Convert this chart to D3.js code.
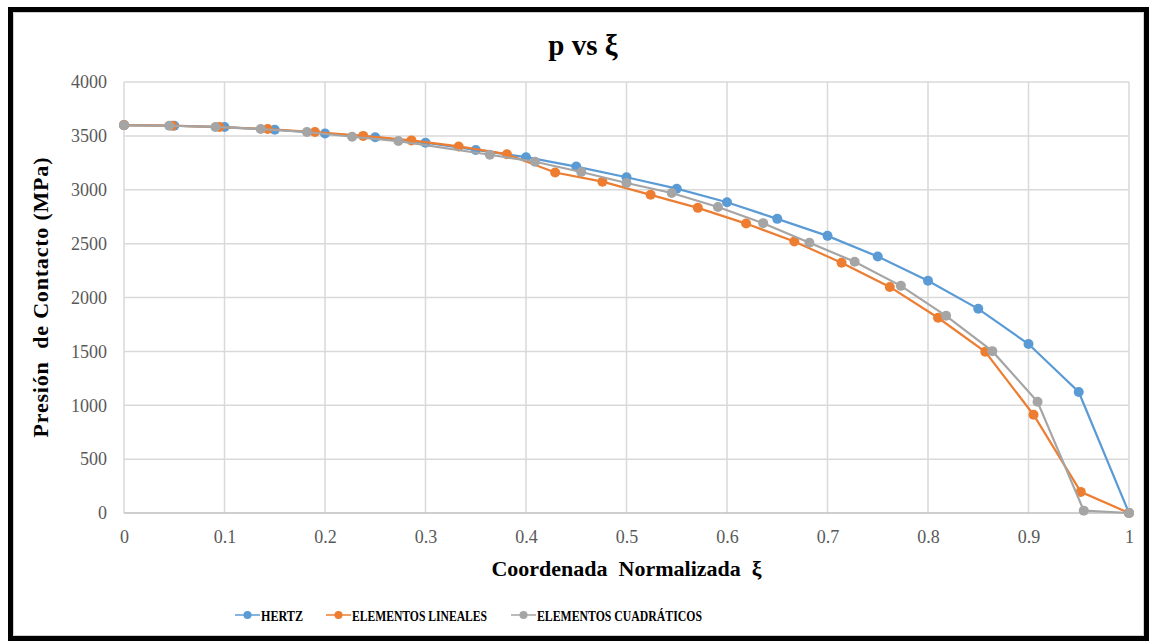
<!DOCTYPE html>
<html>
<head>
<meta charset="utf-8">
<script src="https://cdn.jsdelivr.net/npm/d3@7"></script>
<style>
body { margin: 0; background: #fff; }
</style>
</head>
<body>
<div id="chart"></div>
<script>
// data
var hertzX = [0, 0.05, 0.1, 0.15, 0.2, 0.25, 0.3, 0.35, 0.4, 0.45, 0.5, 0.55, 0.6, 0.65, 0.7, 0.75, 0.8, 0.85, 0.9, 0.95, 1];
var hertzY = [3600, 3594, 3582, 3557, 3522, 3488, 3436, 3369, 3302, 3215, 3116, 3010, 2884, 2730, 2572, 2380, 2156, 1895, 1568, 1123, 0];

var linX = [0, 0.048, 0.095, 0.143, 0.19, 0.238, 0.286, 0.333, 0.381, 0.429, 0.476, 0.524, 0.571, 0.619, 0.667, 0.714, 0.762, 0.81, 0.857, 0.905, 0.952, 1];
var linY = [3600, 3595, 3582, 3563, 3536, 3500, 3458, 3402, 3330, 3160, 3075, 2953, 2832, 2686, 2520, 2322, 2098, 1812, 1496, 912, 196, 0];

var quadX = [0, 0.045, 0.091, 0.136, 0.182, 0.227, 0.273, 0.364, 0.409, 0.455, 0.5, 0.545, 0.591, 0.636, 0.682, 0.727, 0.773, 0.818, 0.864, 0.909, 0.955, 1];
var quadY = [3598, 3594, 3583, 3563, 3536, 3492, 3452, 3325, 3260, 3165, 3063, 2970, 2840, 2690, 2508, 2332, 2108, 1830, 1502, 1032, 22, 0];

var xTicks = [0, 0.1, 0.2, 0.3, 0.4, 0.5, 0.6, 0.7, 0.8, 0.9, 1];
var yTicks = [0, 500, 1000, 1500, 2000, 2500, 3000, 3500, 4000];

var seriesNames = ["HERTZ", "ELEMENTOS LINEALES", "ELEMENTOS CUADRÁTICOS"];
var seriesColors = ["#5b9bd5", "#ed7d31", "#a5a5a5"];

var FONT = "Liberation Serif";

var W = 1154, H = 644;
var margin = {left: 124, right: 25, top: 82, bottom: 131};
var width = W - margin.left - margin.right;
var height = H - margin.top - margin.bottom;

var root = d3.select("#chart").append("svg")
    .attr("width", W)
    .attr("height", H)
    .attr("font-family", FONT);

// frame
root.append("rect")
    .attr("x", 10.5).attr("y", 9.5)
    .attr("width", 1136).attr("height", 629)
    .attr("fill", "none")
    .attr("stroke", "#000")
    .attr("stroke-width", 5);
root.append("rect")
    .attr("x", 13.5).attr("y", 12.5)
    .attr("width", 1130).attr("height", 623)
    .attr("fill", "none")
    .attr("stroke", "#d0d0d0")
    .attr("stroke-width", 1);

root.append("text")
    .attr("x", 583).attr("y", 55)
    .attr("text-anchor", "middle")
    .attr("font-family", FONT)
    .attr("font-size", "29px")
    .attr("font-weight", "bold")
    .text("p vs ξ");

var svg = root.append("g")
    .attr("transform", "translate(" + margin.left + "," + margin.top + ")");

var x = d3.scaleLinear().domain([0, 1]).range([0, width]);
var y = d3.scaleLinear().domain([0, 4000]).range([height, 0]);

// grid
svg.append("g").selectAll("line")
    .data(xTicks)
    .enter().append("line")
    .attr("x1", function(d) { return x(d); })
    .attr("x2", function(d) { return x(d); })
    .attr("y1", 0).attr("y2", height)
    .attr("stroke", "#d9d9d9").attr("stroke-width", 1.5);
svg.append("g").selectAll("line")
    .data(yTicks)
    .enter().append("line")
    .attr("x1", 0).attr("x2", width)
    .attr("y1", function(d) { return y(d); })
    .attr("y2", function(d) { return y(d); })
    .attr("stroke", function(d) { return d === 0 ? "#bfbfbf" : "#d9d9d9"; })
    .attr("stroke-width", 1.5);

// axes
var xAxis = svg.append("g")
    .attr("transform", "translate(0," + height + ")")
    .call(d3.axisBottom(x).tickValues(xTicks).tickSize(0).tickPadding(17)
        .tickFormat(function(d) { return d === 0 || d === 1 ? String(d) : d3.format(".1f")(d); }));
var yAxis = svg.append("g")
    .call(d3.axisLeft(y).tickValues(yTicks).tickSize(0).tickPadding(17)
        .tickFormat(d3.format("d")));
[xAxis, yAxis].forEach(function(a) {
    a.attr("font-family", FONT).attr("font-size", "18px");
    a.select(".domain").remove();
    a.selectAll("text")
        .attr("font-family", FONT)
        .attr("font-size", "18px")
        .attr("fill", "#595959");
});

svg.append("text")
    .attr("x", width / 2).attr("y", height + 63)
    .attr("text-anchor", "middle")
    .attr("font-family", FONT)
    .attr("font-size", "22px")
    .attr("font-weight", "bold")
    .style("white-space", "pre")
    .text("Coordenada  Normalizada  ξ");

svg.append("text")
    .attr("transform", "rotate(-90)")
    .attr("x", -height / 2).attr("y", -76)
    .attr("text-anchor", "middle")
    .attr("font-family", FONT)
    .attr("font-size", "22px")
    .attr("font-weight", "bold")
    .attr("textLength", 280)
    .attr("lengthAdjust", "spacing")
    .style("white-space", "pre")
    .text("Presión  de Contacto (MPa)");

// series
var series = [
    {xs: hertzX, ys: hertzY},
    {xs: linX, ys: linY},
    {xs: quadX, ys: quadY}
];
var line = d3.line()
    .x(function(d) { return x(d[0]); })
    .y(function(d) { return y(d[1]); });

series.forEach(function(s, i) {
    var pts = s.xs.map(function(v, j) { return [v, s.ys[j]]; });
    var g = svg.append("g");
    g.append("path")
        .datum(pts)
        .attr("d", line)
        .attr("fill", "none")
        .attr("stroke", seriesColors[i])
        .attr("stroke-width", 2.2);
    g.selectAll("circle")
        .data(pts)
        .enter().append("circle")
        .attr("cx", function(d) { return x(d[0]); })
        .attr("cy", function(d) { return y(d[1]); })
        .attr("r", 5)
        .attr("fill", seriesColors[i]);
});

// legend
var legendX = [235, 326, 511];
var legendW = [42, 135, 165];
var legend = root.append("g");
seriesNames.forEach(function(name, i) {
    var lg = legend.append("g").attr("transform", "translate(" + legendX[i] + ",615)");
    lg.append("line")
        .attr("x1", 0).attr("x2", 25)
        .attr("y1", 0).attr("y2", 0)
        .attr("stroke", seriesColors[i]).attr("stroke-width", 1.5);
    lg.append("circle")
        .attr("cx", 12.5).attr("cy", 0).attr("r", 4)
        .attr("fill", seriesColors[i]);
    lg.append("text")
        .attr("x", 26).attr("y", 5.5)
        .attr("font-family", FONT)
        .attr("font-size", "15px")
        .attr("font-weight", "bold")
        .attr("textLength", legendW[i])
        .attr("lengthAdjust", "spacingAndGlyphs")
        .text(name);
});
</script>
</body>
</html>
